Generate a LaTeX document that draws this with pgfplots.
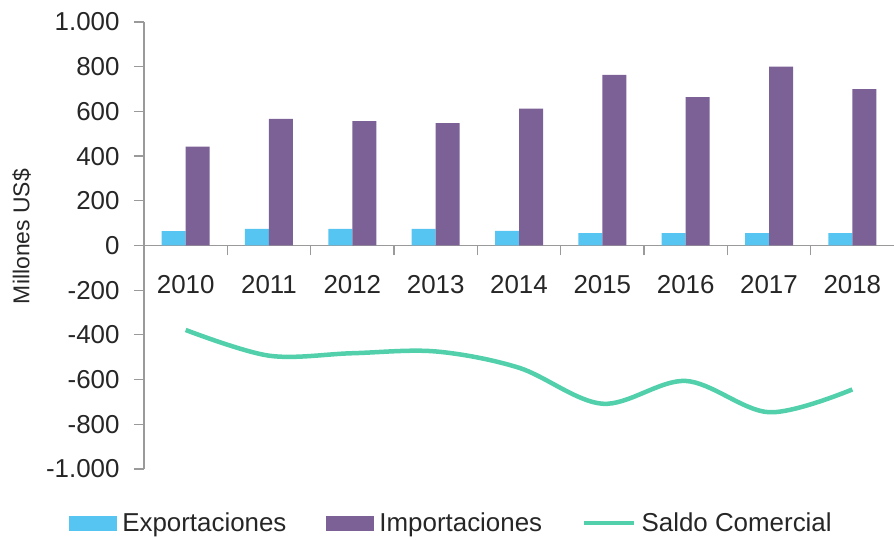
\documentclass[border=0pt]{standalone}
\usepackage{pgfplots}
\pgfplotsset{compat=1.18}
\usepackage{fontspec}
\setmainfont{Liberation Sans}
\definecolor{expo}{HTML}{56C5F2}
\definecolor{impo}{HTML}{7B6196}
\definecolor{saldo}{HTML}{52D0AC}
\definecolor{axgray}{HTML}{9A9A9A}
\definecolor{txt}{HTML}{262626}
\begin{document}
\begin{tikzpicture}
\begin{axis}[
  scale only axis, width=750bp, height=447bp,
  xmin=-0.5, xmax=8.5, ymin=-1000, ymax=1000,
  axis y line=left, axis x line=middle,
  axis line style={-, axgray, line width=1.2bp},
  hide obscured x ticks=false, hide obscured y ticks=false,
  xtick={0,...,8},
  xticklabels={2010,2011,2012,2013,2014,2015,2016,2017,2018},
  major x tick style={draw=none},
  minor xtick={0.5,1.5,...,7.5},
  ytick distance=200,
  tick align=outside, major tick length=10bp, minor tick length=10bp,
  tick style={axgray, line width=1.2bp},
  tick label style={font=\fontsize{26}{30}\selectfont, text=txt},
  xticklabel style={yshift=-16bp},
  yticklabel style={xshift=-11bp},
  /pgf/number format/.cd, use comma, 1000 sep={.}, assume math mode=true,
  /pgfplots/.cd,
  ylabel={Millones US\$},
  ylabel style={at={(axis description cs:-0.163,0.52)}, anchor=center, rotate=0,
    font=\fontsize{23}{27}\selectfont, text=txt},
  legend style={at={(0.41,-0.121)}, anchor=center, draw=none, fill=none,
    font=\fontsize{26}{30}\selectfont, text=txt, legend columns=3,
    /tikz/every odd column/.append style={column sep=3bp},
    /tikz/every even column/.append style={column sep=38bp}},
]
\addplot[ybar, bar width=24bp, bar shift=-12bp, fill=expo, draw=none,
  legend image code/.code={\fill[expo] (0bp,-7.5bp) rectangle (48bp,7.5bp);}]
  coordinates {(0,64) (1,74) (2,74) (3,74) (4,65) (5,55) (6,55) (7,55) (8,55)};
\addlegendentry{Exportaciones}
\addplot[ybar, bar width=24bp, bar shift=12bp, fill=impo, draw=none,
  legend image code/.code={\fill[impo] (0bp,-7.5bp) rectangle (48bp,7.5bp);}]
  coordinates {(0,442) (1,567) (2,556) (3,548) (4,612) (5,763) (6,664) (7,800) (8,700)};
\addlegendentry{Importaciones}
\addplot[saldo, line width=4.5bp, smooth, tension=0.55, no marks,
  legend image code/.code={\draw[saldo, line width=4.5bp] (0bp,0bp) -- (50bp,0bp);}]
  coordinates {(0,-378) (1,-493) (2,-482) (3,-474) (4,-547) (5,-708) (6,-606) (7,-746) (8,-644)};
\addlegendentry{Saldo Comercial}
\end{axis}
\pgfresetboundingbox
\path[use as bounding box] (-144bp,-71bp) rectangle (750bp,469bp);
\end{tikzpicture}
\end{document}
